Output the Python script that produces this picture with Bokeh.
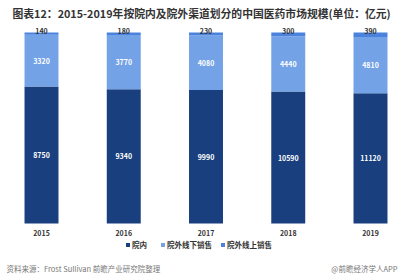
from bokeh.plotting import figure
from bokeh.models import Range1d, Label, Legend, LegendItem, ColumnDataSource
from bokeh.core.properties import value
from bokeh.embed import file_html
from bokeh.resources import INLINE

years = [2015, 2016, 2017, 2018, 2019]
year_labels = ["2015", "2016", "2017", "2018", "2019"]
inside = [8750, 9340, 9990, 10590, 11120]
offline = [3320, 3770, 4080, 4440, 4810]
online = [140, 180, 230, 300, 390]
series_names = ["院内", "院外线下销售", "院外线上销售"]
colors = ["#1a3f7e", "#74a2e6", "#4b82de"]

title_text = "图表12：2015-2019年按院内及院外渠道划分的中国医药市场规模(单位：亿元)"
source_text = "资料来源：Frost Sullivan 前瞻产业研究院整理"
brand_text = "@前瞻经济学人APP"

totals = [a + b + c for a, b, c in zip(inside, offline, online)]
f_in = [a / t for a, t in zip(inside, totals)]
f_off = [b / t for b, t in zip(offline, totals)]
f_on = [c / t for c, t in zip(online, totals)]

src = ColumnDataSource(dict(
    x=years, inside=f_in, offline=f_off, online=f_on,
    y_in=[v / 2 for v in f_in],
    y_off=[a + b / 2 for a, b in zip(f_in, f_off)],
    y_on=[a + b + c for a, b, c in zip(f_in, f_off, f_on)],
    t_in=[str(v) for v in inside],
    t_off=[str(v) for v in offline],
    t_on=[str(v) for v in online],
    lab=year_labels,
    y_lab=[0.0] * len(years),
))

CJK = "Noto Sans CJK SC"

# frame covers whole canvas; 0..1 share maps to canvas y 223..32
p = figure(width=400, height=280, output_backend="svg", toolbar_location=None,
           x_range=Range1d(2014.5015, 2019.3647), y_range=Range1d(-0.2984, 1.1675),
           min_border=0, x_axis_location=None, y_axis_location=None)
p.outline_line_color = None
p.grid.visible = False
p.background_fill_color = "white"

rs = p.vbar_stack(["inside", "offline", "online"], x="x", width=0.413, source=src,
                  color=colors, line_color=None)

common = dict(source=src, text_font=value(CJK), text_font_size="7px",
              text_font_style="bold", text_align="center", text_baseline="middle")
p.text(x="x", y="y_in", text="t_in", text_color="white", **common)
p.text(x="x", y="y_off", text="t_off", text_color="white", **common)
p.text(x="x", y="y_on", text="t_on", text_color="#333333", y_offset=-1, **common)
p.text(x="x", y="y_lab", text="lab", text_color="#333333", y_offset=9, **common)

legend = Legend(items=[LegendItem(label=n, renderers=[r]) for n, r in zip(series_names, rs)],
                orientation="horizontal", location=(125, 30),
                label_text_font=CJK, label_text_font_size="7.5px", label_text_font_style="bold",
                label_text_color="#333333", glyph_width=5, glyph_height=5,
                label_standoff=2, spacing=8, padding=0, margin=0,
                border_line_color=None, background_fill_alpha=0, label_height=8)
p.add_layout(legend)

p.add_layout(Label(x=12, y=268, x_units="screen", y_units="screen", text=title_text,
                   text_font=CJK, text_font_size="10.8px", text_font_style="bold",
                   text_color="#333333", text_baseline="middle"))
p.add_layout(Label(x=6, y=12, x_units="screen", y_units="screen", text=source_text,
                   text_font=CJK, text_font_size="7.5px", text_color="#777777",
                   text_baseline="middle"))
p.add_layout(Label(x=397, y=12, x_units="screen", y_units="screen", text=brand_text,
                   text_font=CJK, text_font_size="7.5px", text_color="#777777",
                   text_baseline="middle", text_align="right"))

open("out.html", "w").write(file_html(p, INLINE))
